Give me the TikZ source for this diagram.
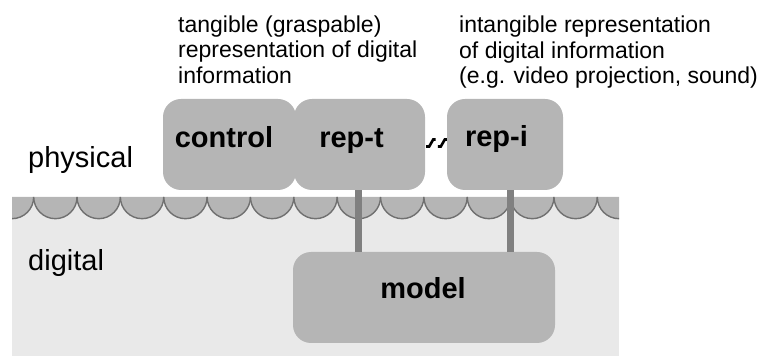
\documentclass[tikz,border=0pt]{standalone}
\usepackage{fontspec}
\setmainfont{Liberation Sans}
\usetikzlibrary{calc}
\definecolor{boxgray}{RGB}{181,181,181}
\definecolor{digigray}{RGB}{233,233,233}
\definecolor{arcgray}{RGB}{112,112,112}
\definecolor{bargray}{RGB}{128,128,128}
\tikzset{
  box/.style={fill=boxgray, rounded corners=18pt, inner sep=0pt, minimum height=91pt},
  lbl/.style={font=\fontsize{29}{34}\selectfont\bfseries, inner sep=0pt, anchor=base},
  side/.style={font=\fontsize{29}{34}\selectfont, inner sep=0pt, anchor=base west},
  toptext/.style={font=\fontsize{23}{25.7}\selectfont, inner sep=0pt, align=left, anchor=north west},
  bar/.style={draw=bargray, line width=7pt},
  squig/.style={draw=black, line width=2.6pt},
  scallop/.style={draw=arcgray, line width=1.4pt}
}
\begin{document}
\begin{tikzpicture}[x=1pt,y=1pt]
\useasboundingbox (0,0) rectangle (758,356);
% digital area
\fill[digigray] (12,0) rectangle (619,159);
\begin{scope}
  \clip (12,0) rectangle (619,159);
  \foreach \k in {0,...,14} {
    \pgfmathsetmacro\cx{12+\k*43.357}
    \fill[boxgray] (\cx-21.68,159) arc[start angle=180,end angle=360,radius=21.68] -- cycle;
    \draw[scallop] (\cx-21.68,159) arc[start angle=180,end angle=360,radius=21.68];
  }
\end{scope}
% boxes
\node[box, minimum width=133pt] (control) at (229.5,211.5) {};
\node[box, minimum width=131pt] (rept) at (359.5,211.5) {};
\node[box, minimum width=116pt] (repi) at (505,211.5) {};
\node[box, minimum width=262pt] (model) at (424,58.5) {};
% bars
\draw[bar] ([xshift=-1pt]rept.south) -- ([xshift=-1pt]rept.south |- model.north);
\draw[bar] ([xshift=5pt]repi.south) -- ([xshift=5pt]repi.south |- model.north);
% squiggle between rep-t and rep-i
\draw[squig] ($(rept.east)+(1,-2)$) -- ++(3,0) -- ++(4,7) -- ++(2.5,0);
\draw[squig] ($(repi.west)+(-9,-2)$) -- ++(3,0) -- ++(4,7) -- ++(2,0);
% labels
\node[lbl] (controltxt) at (224,208) {control};
\node[lbl] (repttxt) at (351.5,208) {rep-t};
\node[lbl] (repitxt) at (496.5,209) {rep-i};
\node[lbl] (modeltxt) at (423,57) {model};
\node[side] (physical) at (28,188) {physical};
\node[side] (digital) at (28,85) {digital};
\node[toptext] (tangible) at (178,340.7) {tangible (graspable)\\representation of digital\\information};
\node[toptext] (intangible) at (459,340.5) {intangible representation\\of digital information\\(e.g. video projection, sound)};
\end{tikzpicture}
\end{document}
